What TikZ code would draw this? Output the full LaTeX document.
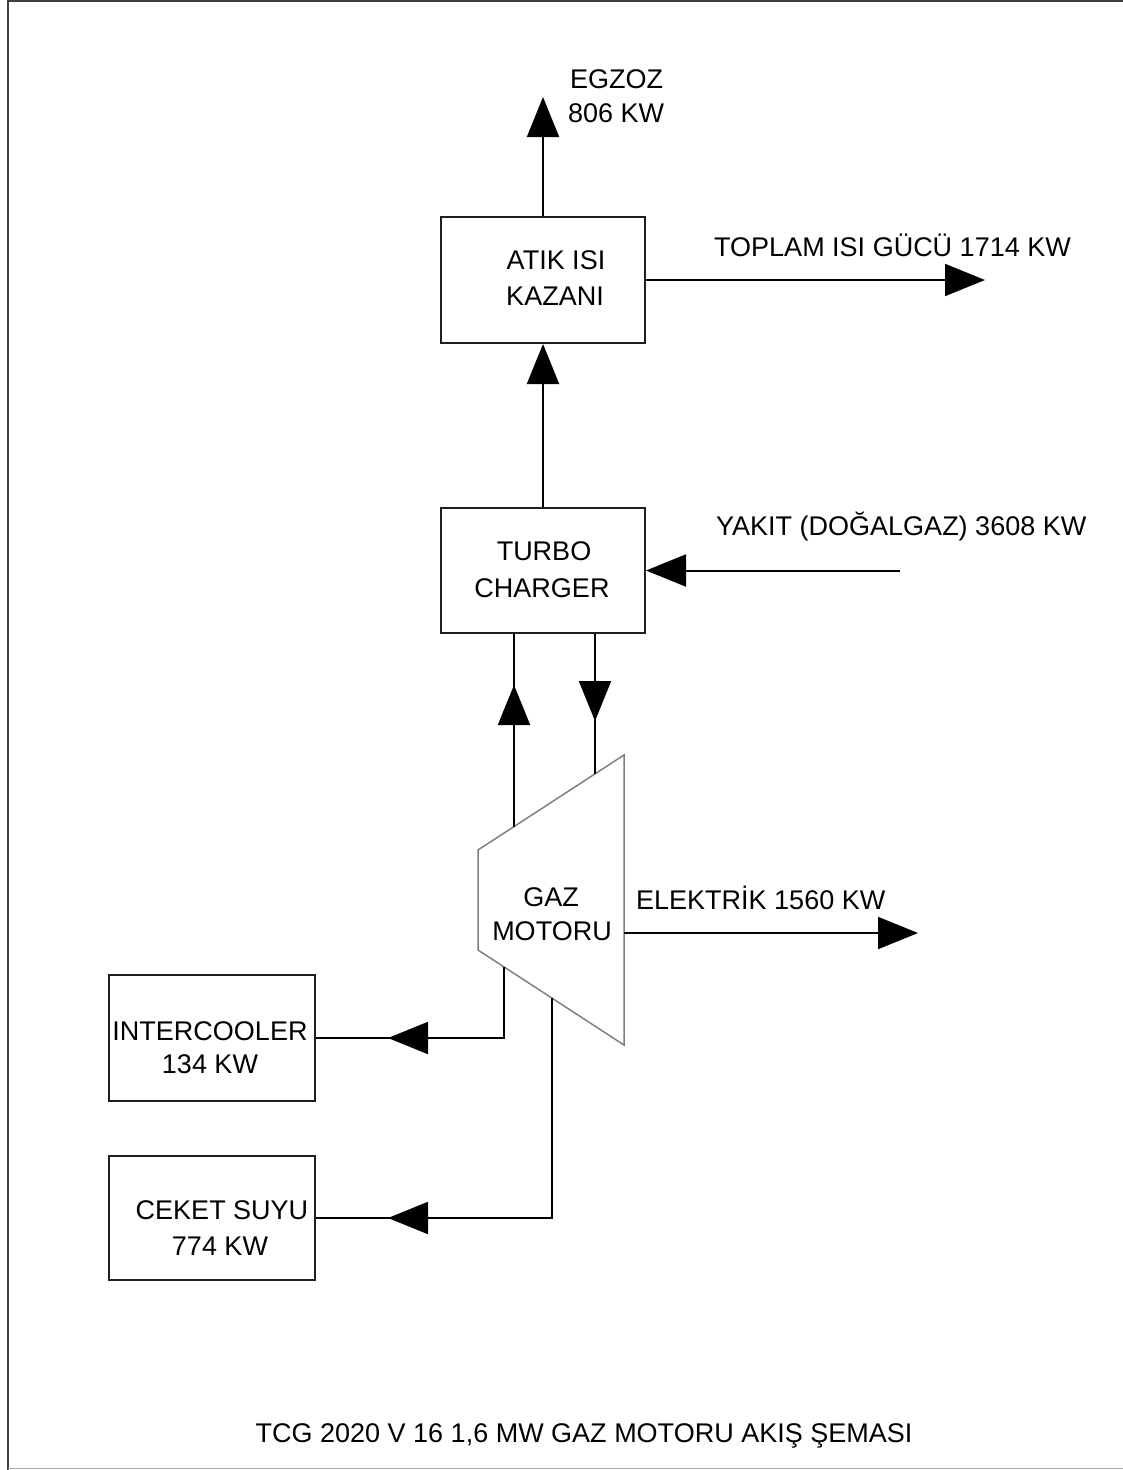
\documentclass[tikz,border=0pt]{standalone}
\usepackage{fontspec}
\setmainfont{Liberation Sans}
\usetikzlibrary{arrows.meta}
\begin{document}
\begin{tikzpicture}[x=1pt,y=-1pt,
  lbl/.style={font=\fontsize{27}{33}\selectfont, inner sep=0pt, text=black},
  box/.style={draw=black!88, line width=2pt, minimum width=204pt, minimum height=126pt, inner sep=0pt},
  flow/.style={draw=black, line width=2pt},
  tri/.style={-{Triangle[length=40pt,width=32pt]}},
]
\useasboundingbox (0,0) rectangle (1123,1470);
% frame
\draw[draw=black!75, line width=2.4pt] (8,1470) -- (8,1.2) -- (1123,1.2);
\draw[draw=black!35, line width=1.6pt] (8,1468.5) -- (1123,1468.5);

% boxes
\node[box] (atik) at (543,280) {};
\node[box, minimum height=125pt] (turbo) at (543,570.5) {};
\node[box, minimum width=206pt] (int) at (212,1038) {};
\node[box, minimum width=206pt, minimum height=124pt] (cek) at (212,1218) {};

% gas engine trapezoid
\coordinate (gmA) at (478,850);
\coordinate (gmB) at (624,755);
\coordinate (gmC) at (624,1045);
\coordinate (gmD) at (478,950);
\draw[draw=black!50, line width=1.5pt, line join=miter] (gmA) -- (gmB) -- (gmC) -- (gmD) -- cycle;

% labels
\node[lbl, anchor=base west] (egz1) at (570,88) {EGZOZ};
\node[lbl, anchor=base west] (egz2) at (568,122) {806 KW};
\node[lbl, anchor=base] (atik1) at (556,269) {ATIK ISI};
\node[lbl, anchor=base] (atik2) at (555,305) {KAZANI};
\node[lbl, anchor=base west] (top) at (714,256) {TOPLAM ISI GÜCÜ 1714 KW};
\node[lbl, anchor=base] (tb1) at (544,560) {TURBO};
\node[lbl, anchor=base] (tb2) at (542,597) {CHARGER};
\node[lbl, anchor=base west] (yak) at (716,535) {YAKIT (DOĞALGAZ) 3608 KW};
\node[lbl, anchor=base] (gm1) at (551,906) {GAZ};
\node[lbl, anchor=base] (gm2) at (552,940) {MOTORU};
\node[lbl, anchor=base west] (ele) at (636,909) {ELEKTRİK 1560 KW};
\node[lbl, anchor=base] (int1) at (210,1040) {INTERCOOLER};
\node[lbl, anchor=base] (int2) at (210,1073) {134 KW};
\node[lbl, anchor=base] (cek1) at (222,1219) {CEKET SUYU};
\node[lbl, anchor=base] (cek2) at (220,1255) {774 KW};
\node[lbl, anchor=base] (title) at (584,1442) {TCG 2020 V 16 1,6 MW GAZ MOTORU AKIŞ ŞEMASI};

% connector coordinates
\coordinate (egzTip) at (543,97);
\coordinate (topTip) at (985,280);
\coordinate (yakStart) at (900,570.5);
\coordinate (gmL) at (514,826.6);
\coordinate (upTip) at (514,685);
\coordinate (gmR) at (595,773.9);
\coordinate (dnTip) at (595,721);
\coordinate (gmE) at (624,933);
\coordinate (eleTip) at (918,933);
\coordinate (gmI) at (504,966.9);
\coordinate (intTip) at (388,1038);
\coordinate (gmK) at (552,998.2);
\coordinate (cekTip) at (388,1218);

% connectors
\draw[flow,tri] (atik.north) -- (egzTip);
\draw[flow,tri] (atik.east) -- (topTip);
\draw[flow,tri] (turbo.north) -- (atik.south);
\draw[flow,tri] (yakStart) -- (turbo.east);
\draw[flow] (gmL) -- (turbo.south -| gmL);
\draw[flow,tri] (gmL) -- (upTip);
\draw[flow] (turbo.south -| gmR) -- (gmR);
\draw[flow,tri] (turbo.south -| gmR) -- (dnTip);
\draw[flow,tri] (gmE) -- (eleTip);
\draw[flow] (gmI) |- (int.east);
\draw[flow,tri] (gmI) |- (intTip);
\draw[flow] (gmK) |- (cek.east);
\draw[flow,tri] (gmK) |- (cekTip);
\end{tikzpicture}
\end{document}
